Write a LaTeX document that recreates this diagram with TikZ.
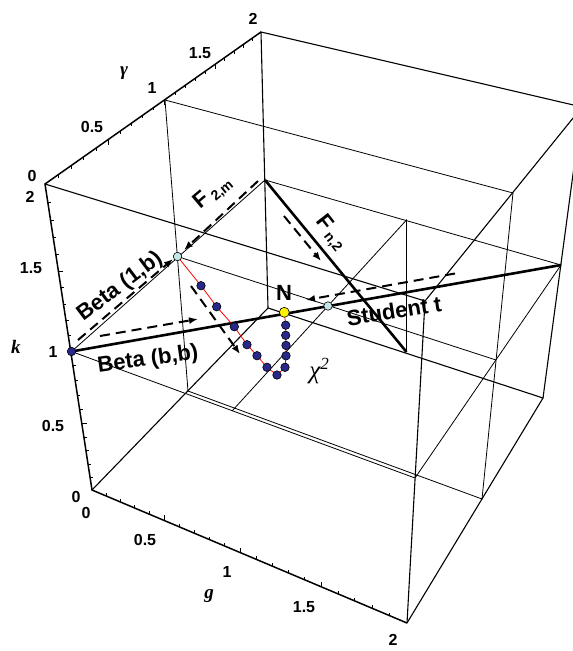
\documentclass[tikz,border=0pt]{standalone}
\usepackage{fontspec}
\setmainfont{Liberation Serif}
\setsansfont{Liberation Sans}
\usetikzlibrary{arrows.meta,calc}

\definecolor{dotblue}{RGB}{40,40,140}
\definecolor{dotcyan}{RGB}{195,230,230}

\begin{document}
\begin{tikzpicture}[x=1pt,y=-1pt,
    boxedge/.style={line width=1.1pt},
    gridline/.style={line width=0.8pt},
    axisline/.style={line width=1.5pt},
    ticky/.style={line width=0.8pt},
    route/.style={line width=2.6pt},
    flow/.style={line width=2pt, dash pattern=on 10pt off 6pt,
      -{Latex[length=9pt,width=7pt]}},
    ticklbl/.style={font=\sffamily\bfseries\fontsize{16}{16}\selectfont},
    distname/.style={font=\sffamily\bfseries\fontsize{22}{22}\selectfont},
    axisname/.style={font=\bfseries\itshape\fontsize{19}{19}\selectfont},
    sample/.style={circle, draw=black, line width=0.6pt, fill=dotblue,
      inner sep=0pt, minimum size=8.5pt},
    limitpt/.style={circle, draw=black, line width=0.6pt, fill=dotcyan,
      inner sep=0pt, minimum size=8.5pt},
  ]
  \useasboundingbox (0,0) rectangle (573,651);
  \clip (0,0) rectangle (573,651);

  % corners of the box, (g,gamma,k) -> Pggk
  \coordinate (P000) at (92,490);
  \coordinate (P200) at (407,623);
  \coordinate (P002) at (45,184);
  \coordinate (P202) at (425,301);
  \coordinate (P022) at (261,32);
  \coordinate (P222) at (582,107);
  \coordinate (P020) at (268,308);
  \coordinate (P220) at (543,398);
  % inner points
  \coordinate (P012) at (165,100);
  \coordinate (P212) at (513,193);
  \coordinate (P010) at (188,391);
  \coordinate (P210) at (482,499);
  \coordinate (P001) at (71.5,351.5);
  \coordinate (P201) at (415,478);
  \coordinate (P221) at (561,265);
  \coordinate (P021) at (265,180);
  \coordinate (P011) at (177.5,256.5);
  \coordinate (P211) at (496,360);
  \coordinate (P101) at (232,411);
  \coordinate (P121) at (406.5,220);
  \coordinate (P120) at (406.5,352);
  \coordinate (P111) at (328,306);
  \coordinate (Nn) at (284.3,312.3);

  % inner planes gamma=1 and k=1
  \draw[gridline] (P012) -- (P212) -- (P210) -- (P010) -- cycle;
  \draw[gridline] (P001) -- (P201) -- (P221) -- (P021) -- cycle;
  \draw[gridline] (P011) -- (P211);
  \draw[gridline] (P101) -- (P121) -- (P120);

  % box
  \draw[boxedge] (P002) -- (P202) -- (P200);
  \draw[boxedge] (P202) -- (P222) -- (P022) -- (P020) -- (P000);
  \draw[boxedge] (P020) -- (P220) -- (P200);
  \draw[boxedge] (P220) -- (P222);
  \draw[axisline] (P200) -- (P000) -- (P002) -- (P022);

  % ticks
  \foreach \i in {1,...,19}{
    \pgfmathsetmacro\fr{(\i/10)*(1-0.11)/(2*(1-0.055*\i/10))}
    \pgfmathsetmacro\tl{ifthenelse(mod(\i,5)==0,5,3)}
    \draw[ticky] ($(P000)!\fr!(P200)$) -- ++(0,-\tl);
    \pgfmathsetmacro\fr{(\i/10)*(1-0.1658)/(2*(1-0.0829*\i/10))}
    \draw[ticky] ($(P000)!\fr!(P002)$) -- ++(\tl,0);
    \pgfmathsetmacro\fr{(\i/10)*(1.2398)/(2*(1+0.1199*\i/10))}
    \draw[ticky] ($(P002)!\fr!(P022)$) -- ++(0,\tl);
  }

  % tick labels
  \foreach \x/\y/\t in {86/513/0, 145/540/0.5, 227/572/1, 304/607/1.5, 393/640/2}
    \node[ticklbl] at (\x,\y) {\t};
  \foreach \x/\y/\t in {76/497/0, 53/426/0.5, 53/352/1, 31/268/1.5, 30/197/2}
    \node[ticklbl] at (\x,\y) {\t};
  \foreach \x/\y/\t in {32/176/0, 92/127/0.5, 152/88/1, 200/53/1.5, 253/19/2}
    \node[ticklbl] at (\x,\y) {\t};
  \node[axisname] (gname) at (209,596) {g};
  \node[axisname] (kname) at (16,347) {k};
  \node[axisname] (gamname) at (124,73) {γ};

  % distribution lines
  \draw[route] (P001) -- (P221);
  \draw[route] (P021) -- (P120);

  % arrows
  \coordinate (b1s) at (78,340);   \coordinate (b1e) at (173,259);
  \coordinate (bbs) at (100,336);  \coordinate (bbe) at (198,319);
  \coordinate (f2s) at (258,181);  \coordinate (f2e) at (184,250);
  \coordinate (fns) at (284,216);  \coordinate (fne) at (321,261);
  \coordinate (sts) at (455,273.5); \coordinate (ste) at (306,300);
  \coordinate (chs) at (191,286);  \coordinate (che) at (240,354);
  \foreach \a/\b in {b1s/b1e, bbs/bbe, f2s/f2e, fns/fne, sts/ste, chs/che}
    \draw[flow] (\a) -- (\b);

  % chi-square path
  \foreach \n/\x/\y in {1/201/285.7, 2/216.7/306.7, 3/234.3/326.7, 4/247/344.7,
      5/257/355.7, 6/267/367.3, 7/277/375, 8/285/367.3, 9/286/355.8,
      10/286/345.4, 11/285.7/335.3, 12/285.7/325.2}
    \coordinate (c\n) at (\x,\y);
  \draw[red, line width=0.8pt] (P011) -- (c1) -- (c2) -- (c3) -- (c4) -- (c5)
    -- (c6) -- (c7) -- (c8) -- (c9) -- (c10) -- (c11) -- (c12) -- (Nn);
  \foreach \n in {1,...,12}
    \node[sample] (dot\n) at (c\n) {};

  \node[sample] (bbdot) at (P001) {};
  \node[limitpt] (b1dot) at (P011) {};
  \node[limitpt] (stdot) at (P111) {};
  \node[circle, draw=black, line width=0.6pt, fill=yellow, inner sep=0pt,
    minimum size=10pt] (ndot) at (Nn) {};

  % labels
  \node[distname, rotate=40] (f2lbl) at (213,193)
    {F\,\raisebox{-4pt}{\fontsize{14}{14}\selectfont 2,m}};
  \node[distname, rotate=-52] (fnlbl) at (331,233)
    {F\,\raisebox{-4pt}{\fontsize{14}{14}\selectfont n,2}};
  \node[distname, rotate=37] (b1lbl) at (120,287) {Beta (1,b)};
  \node[distname, rotate=8] (bblbl) at (148,360) {Beta (b,b)};
  \node[distname, rotate=9] (stlbl) at (394,311) {Student t};
  \node[distname] (nlbl) at (284,293) {N};
  \node[font=\itshape\fontsize{25}{25}\selectfont] (chilbl) at (319,371)
    {χ\raisebox{9pt}{\fontsize{17}{17}\selectfont 2}};
\end{tikzpicture}
\end{document}
